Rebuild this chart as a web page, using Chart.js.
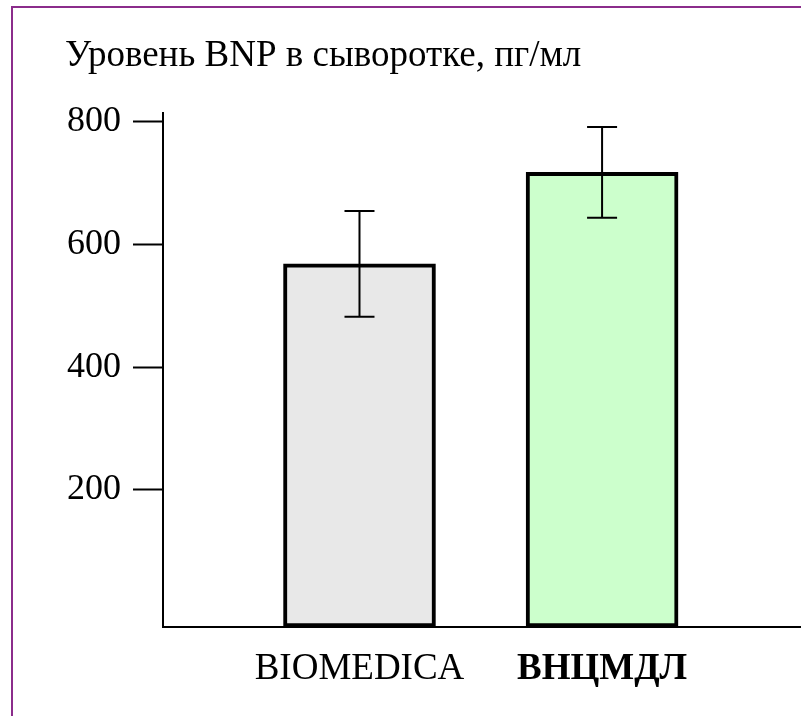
<!DOCTYPE html>
<html>
<head>
<meta charset="utf-8">
<script src="https://cdn.jsdelivr.net/npm/chart.js@4"></script>
<style>
  html, body { margin: 0; padding: 0; background: #fff; }
  #wrap { position: relative; width: 801px; height: 716px; }
  #wrap canvas { position: absolute; left: 0; top: 0; }
  /* purple frame, only top and left edges are visible */
  #frame {
    position: absolute; left: 11px; top: 6px; right: 0; bottom: 0;
    border-left: 2px solid #8b2c8b; border-top: 2px solid #8b2c8b;
    pointer-events: none;
  }
</style>
</head>
<body>
<div id="wrap">
  <canvas id="bnpChart" width="801" height="716"></canvas>
  <div id="frame"></div>
</div>
<script>
// данные
const categories = ['BIOMEDICA', 'ВНЦМДЛ'];
const bnpMean = [568, 717];
const bnpError = [86, 74];
const yTicks = [200, 400, 600, 800];
const barColors = ['#e8e8e8', '#ccffcc'];
const yMin = -23;
const yMax = 813;

const serif = "'Liberation Serif', 'Times New Roman', serif";
Chart.defaults.font.family = serif;
Chart.defaults.color = '#000';

// усы погрешности
const errorBars = {
    id: 'errorBars',
    afterDatasetsDraw(chart) {
        const ctx = chart.ctx;
        const xs = chart.scales.x;
        const ys = chart.scales.y;
        ctx.save();
        ctx.strokeStyle = '#000';
        ctx.lineWidth = 2;
        bnpMean.forEach((v, i) => {
            const px = xs.getPixelForValue(i + 1);
            const top = ys.getPixelForValue(v + bnpError[i]);
            const bot = ys.getPixelForValue(v - bnpError[i]);
            ctx.beginPath();
            ctx.moveTo(px, top); ctx.lineTo(px, bot);
            ctx.moveTo(px - 15, top); ctx.lineTo(px + 15, top);
            ctx.moveTo(px - 15, bot); ctx.lineTo(px + 15, bot);
            ctx.stroke();
        });
        ctx.restore();
    }
};

new Chart(document.getElementById('bnpChart'), {
    type: 'bar',
    data: {
        datasets: [{
            data: bnpMean.map((v, i) => ({ x: i + 1, y: v })),
            backgroundColor: barColors,
            borderColor: '#000',
            borderWidth: 4,
            borderSkipped: false,
            barThickness: 152,
            base: yMin
        }]
    },
    options: {
        responsive: false,
        animation: false,
        layout: { padding: { left: 65, top: 0, right: 0, bottom: 0 } },
        plugins: {
            legend: { display: false },
            tooltip: { enabled: false },
            title: {
                display: true,
                text: 'Уровень BNP в сыворотке, пг/мл',
                align: 'start',
                color: '#000',
                font: { size: 37, weight: 'normal' },
                padding: { top: 34, bottom: 35 }
            }
        },
        scales: {
            x: {
                type: 'linear',
                min: 0.19,
                max: 2.82,
                offset: false,
                grid: { display: false, offset: false },
                border: { display: true, color: '#000', width: 2 },
                afterBuildTicks: (axis) => {
                    axis.ticks = categories.map((c, i) => ({ value: i + 1 }));
                },
                afterFit: (axis) => { axis.height = 89; },
                ticks: {
                    autoSkip: false,
                    maxRotation: 0,
                    padding: 12,
                    color: '#000',
                    font: (ctx) => ({ size: 37, weight: ctx.index === 1 ? 'bold' : 'normal' }),
                    callback: (value, index) => categories[index]
                }
            },
            y: {
                min: yMin,
                max: yMax,
                grid: {
                    drawOnChartArea: false,
                    tickLength: 30,
                    tickWidth: 2,
                    tickColor: '#000'
                },
                border: { display: true, color: '#000', width: 2 },
                afterBuildTicks: (axis) => {
                    axis.ticks = yTicks.map((v) => ({ value: v }));
                },
                afterFit: (axis) => { axis.width = 98; },
                ticks: {
                    padding: 12,
                    color: '#000',
                    font: { size: 36 }
                }
            }
        }
    },
    plugins: [errorBars]
});
</script>
</body>
</html>
